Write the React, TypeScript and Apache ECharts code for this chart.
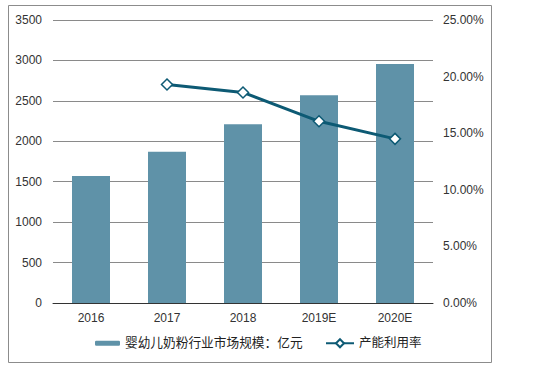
import React, { useEffect, useRef } from "react";
import * as echarts from "echarts";

const categories = ["2016", "2017", "2018", "2019E", "2020E"];
const marketSize = [1570, 1870, 2210, 2570, 2955];
const utilization = [null, 19.3, 18.6, 16.05, 14.5];
const barName = "婴幼儿奶粉行业市场规模：亿元";
const lineName = "产能利用率";

const FONT = "Liberation Sans, Arial, Noto Sans CJK SC, sans-serif";

export default function App() {
  const ref = useRef<HTMLDivElement>(null);
  useEffect(() => {
    const chart = echarts.init(ref.current!, undefined, { renderer: "svg" });
    chart.setOption({
      animation: false,
      textStyle: { fontFamily: FONT },
      grid: { left: 53, right: 107, top: 20, bottom: 66 },
      graphic: [
        {
          type: "rect",
          shape: { x: 8.5, y: 5.5, width: 483, height: 357 },
          style: { fill: "none", stroke: "#8c8c8c", lineWidth: 1 },
          silent: true,
        },
      ],
      legend: [
        {
          data: [barName],
          left: 90,
          top: 332,
          itemWidth: 25,
          itemHeight: 5,
          itemGap: 4,
          textStyle: { fontSize: 12.7, color: "#222", fontFamily: FONT },
        },
        {
          data: [lineName],
          left: 320,
          top: 332,
          itemWidth: 28,
          itemHeight: 10,
          textStyle: { fontSize: 12.5, color: "#222", fontFamily: FONT },
        },
      ],
      xAxis: {
        type: "category",
        data: categories,
        axisLine: { lineStyle: { color: "#333", width: 1 } },
        axisTick: { show: false },
        axisLabel: { color: "#333", fontSize: 12, margin: 9 },
      },
      yAxis: [
        {
          type: "value",
          min: 0,
          max: 3500,
          interval: 500,
          axisLine: { show: false },
          axisTick: { show: false },
          axisLabel: {
            color: "#333",
            fontSize: 12,
            margin: 11,
            formatter: (v: number) => String(v),
          },
          splitLine: { lineStyle: { color: "#8a8a8a", width: 1 } },
        },
        {
          type: "value",
          min: 0,
          max: 25,
          interval: 5,
          axisLine: { show: false },
          axisTick: { show: false },
          axisLabel: {
            color: "#333",
            fontSize: 12,
            margin: 10,
            formatter: (v: number) => v.toFixed(2) + "%",
          },
          splitLine: { show: false },
        },
      ],
      series: [
        {
          name: barName,
          type: "bar",
          data: marketSize,
          barWidth: "50%",
          itemStyle: { color: "#5f92a8" },
        },
        {
          name: lineName,
          type: "line",
          yAxisIndex: 1,
          data: utilization,
          symbol: "diamond",
          symbolSize: 11,
          lineStyle: { color: "#0d5a74", width: 3 },
          itemStyle: { color: "#fff", borderColor: "#0d5a74", borderWidth: 1.5 },
          z: 5,
        },
      ],
    });
    return () => chart.dispose();
  }, []);
  return (
    <div
      ref={ref}
      style={{ position: "fixed", left: 0, top: 0, width: 540, height: 369, background: "#fff" }}
    />
  );
}
